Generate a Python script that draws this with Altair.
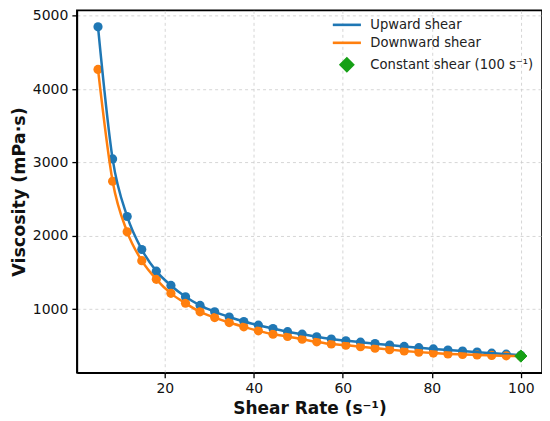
import altair as alt
import pandas as pd

shear_rate = [5.0, 8.28, 11.55, 14.83, 18.10, 21.38, 24.66, 27.93, 31.21, 34.48,
              37.76, 41.03, 44.31, 47.59, 50.86, 54.14, 57.41, 60.69, 63.97, 67.24,
              70.52, 73.79, 77.07, 80.34, 83.62, 86.90, 90.17, 93.45, 96.72, 100.0]
upward = [4850, 3050, 2265, 1815, 1520, 1325, 1170, 1052, 965, 895,
          833, 783, 738, 695, 660, 625, 595, 570, 552, 532,
          512, 494, 477, 460, 445, 430, 416, 402, 388, 372]
downward = [4270, 2745, 2056, 1662, 1408, 1217, 1082, 965, 887, 819,
            761, 706, 660, 629, 592, 557, 527, 511, 489, 470,
            450, 432, 416, 403, 392, 384, 377, 371, 366, 362]
constant_x = [100]
constant_y = [362]

series_names = ["Upward shear", "Downward shear", "Constant shear (100 s\u207b\u00b9)"]
series_colors = ["#1f77b4", "#ff7f0e", "#16a016"]

curves = pd.DataFrame({
    "x": shear_rate * 2,
    "y": upward + downward,
    "series": [series_names[0]] * len(shear_rate) + [series_names[1]] * len(shear_rate),
})
const = pd.DataFrame({"x": constant_x, "y": constant_y, "series": [series_names[2]]})

xscale = alt.Scale(domain=[0.25, 104.75], nice=False, zero=False)
yscale = alt.Scale(domain=[135.5, 5074.5], nice=False, zero=False)
cscale = alt.Scale(domain=series_names, range=series_colors)

xenc = alt.X("x:Q", scale=xscale, title="Shear Rate (s\u207b\u00b9)",
             axis=alt.Axis(values=[20, 40, 60, 80, 100], format="d"))
yenc = alt.Y("y:Q", scale=yscale, title="Viscosity (mPa\u00b7s)",
             axis=alt.Axis(values=[1000, 2000, 3000, 4000, 5000], format="d"))

base = alt.Chart(curves)

pts = base.mark_circle(size=85, opacity=1).encode(
    x=xenc, y=yenc,
    color=alt.Color("series:N", scale=cscale, legend=None),
    detail="series:N",
)
lines = base.mark_line(strokeWidth=2.5, interpolate="monotone").encode(
    x=xenc, y=yenc,
    color=alt.Color("series:N", scale=cscale, legend=None),
    detail="series:N",
)

legend = alt.Legend(
    title=None, orient="none", legendX=263, legendY=7, padding=0,
    labelFont="DejaVu Sans", labelFontSize=13.2, labelColor="#222", labelLimit=0,
    symbolSize=150, symbolStrokeWidth=2.6, labelOffset=16,
    rowPadding=4, symbolOpacity=1,
)
diamond = alt.Chart(const).mark_point(filled=True, size=150, opacity=1, strokeWidth=1).encode(
    x=xenc, y=yenc,
    color=alt.Color("series:N", scale=cscale, legend=legend),
    stroke=alt.Stroke("series:N", scale=cscale, legend=legend),
    shape=alt.Shape("series:N", scale=alt.Scale(
        domain=series_names, range=["M-2.3,0L2.3,0", "M-2.3,0L2.3,0", "diamond"]), legend=legend),
)

chart = alt.layer(pts, lines, diamond).resolve_legend(
    color="independent", stroke="independent", shape="independent",
).properties(
    width=466, height=363,
    padding={"left": 2, "top": 0, "right": 0, "bottom": 0},
).configure_view(
    stroke="black", strokeWidth=1.6,
).configure_axis(
    labelFont="DejaVu Sans", titleFont="DejaVu Sans",
    labelFontSize=14, titleFontSize=17, titleFontWeight="bold",
    labelColor="#111", titleColor="#111",
    domainColor="black", domainWidth=1.6,
    tickColor="black", tickSize=5, tickWidth=1.3,
    gridColor="#cccccc", gridDash=[3, 3], gridWidth=0.8,
    labelPadding=4,
).configure_axisX(
    titlePadding=5,
).configure_axisY(
    titlePadding=4, titleFontSize=17.5,
)

chart.save("out.html", embed_options={"renderer": "svg", "actions": False})
